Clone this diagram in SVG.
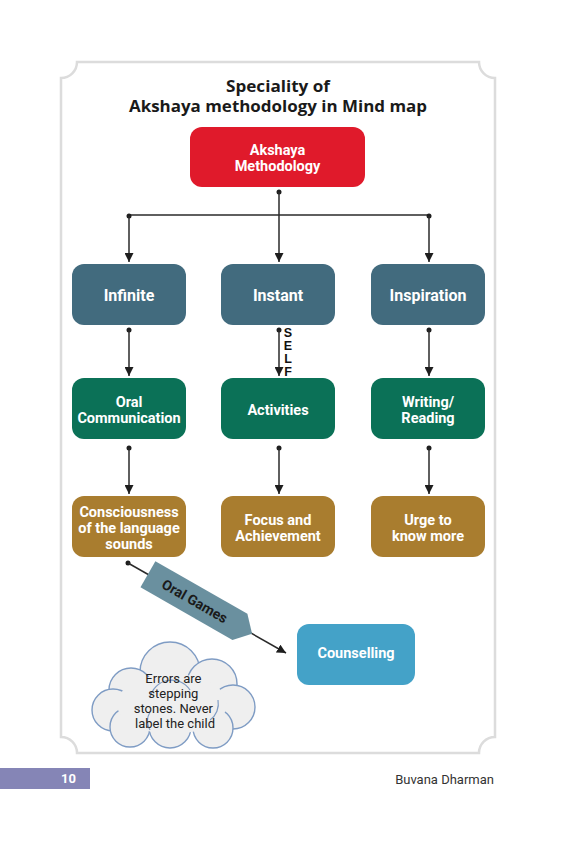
<svg xmlns="http://www.w3.org/2000/svg" width="561" height="842" viewBox="0 0 561 842">
<defs>
<marker id="arr" viewBox="0 0 10 10" refX="10" refY="5" markerWidth="9" markerHeight="9" markerUnits="userSpaceOnUse" orient="auto">
<path d="M0,0 L10,5 L0,10 Z" fill="#1e1e1e"/>
</marker>
<style>
.frame{fill:#fff;stroke:#dcdcdc;stroke-width:2.5}
.title{font-family:"Open Sans","Liberation Sans",sans-serif;font-weight:700;font-size:16px;fill:#1a1a1a;text-anchor:middle}
.lbl{font-family:Roboto,"Liberation Sans",sans-serif;font-weight:700;font-size:14.5px;fill:#fff;text-anchor:middle}
.big{font-size:16px}
.con{stroke:#2a2a2a;stroke-width:1.5;fill:none}
.dot{fill:#1e1e1e}
.n1{fill:#426b7e}
.n2{fill:#0b7157}
.n3{fill:#a97d2f}
.cl{fill:#efefef;stroke:#7f9cc4;stroke-width:1.4}
.self{font-family:"Liberation Sans",Arial,sans-serif;font-weight:700;font-size:12.5px;fill:#111;text-anchor:middle}
</style>
</defs>
<rect width="561" height="842" fill="#fff"/>
<path class="frame" d="M77,62 H479 A16,16 0 0 0 495,78 V737 A16,16 0 0 0 479,753 H77 A16,16 0 0 0 61,737 V78 A16,16 0 0 0 77,62 Z"/>
<g id="title">
<text class="title" x="278" y="92" textLength="104" lengthAdjust="spacingAndGlyphs">Speciality of</text>
<text class="title" x="278" y="112" textLength="298" lengthAdjust="spacingAndGlyphs">Akshaya methodology in Mind map</text>
</g>
<g id="connectors">
<circle class="dot" cx="279" cy="192" r="2.5"/>
<line class="con" x1="279" y1="192" x2="279" y2="262" marker-end="url(#arr)"/>
<line class="con" x1="129" y1="215" x2="429" y2="215"/>
<circle class="dot" cx="129" cy="216" r="2.5"/>
<circle class="dot" cx="429" cy="216" r="2.5"/>
<line class="con" x1="129" y1="216" x2="129" y2="262" marker-end="url(#arr)"/>
<line class="con" x1="429" y1="216" x2="429" y2="262" marker-end="url(#arr)"/>
<circle class="dot" cx="129" cy="330" r="2.5"/>
<line class="con" x1="129" y1="330" x2="129" y2="376" marker-end="url(#arr)"/>
<circle class="dot" cx="279" cy="330" r="2.5"/>
<line class="con" x1="279" y1="330" x2="279" y2="376" marker-end="url(#arr)"/>
<circle class="dot" cx="429" cy="330" r="2.5"/>
<line class="con" x1="429" y1="330" x2="429" y2="376" marker-end="url(#arr)"/>
<circle class="dot" cx="129" cy="448" r="2.5"/>
<line class="con" x1="129" y1="448" x2="129" y2="494" marker-end="url(#arr)"/>
<circle class="dot" cx="279" cy="448" r="2.5"/>
<line class="con" x1="279" y1="448" x2="279" y2="494" marker-end="url(#arr)"/>
<circle class="dot" cx="429" cy="448" r="2.5"/>
<line class="con" x1="429" y1="448" x2="429" y2="494" marker-end="url(#arr)"/>
<circle class="dot" cx="128" cy="563" r="2.5"/>
<line class="con" x1="128" y1="563" x2="286" y2="653" marker-end="url(#arr)"/>
<g id="oral-games" transform="translate(200,604) rotate(29.8)">
<path d="M-60,-15 H46 L60,0 L46,15 H-60 Z" fill="#6a909f"/>
<text x="-6" y="5" font-family="Roboto,'Liberation Sans',sans-serif" font-weight="700" font-size="14" fill="#1a1a1a" text-anchor="middle">Oral Games</text>
</g>
<g id="self-label">
<text class="self" x="288" y="337">S</text>
<text class="self" x="288" y="350">E</text>
<text class="self" x="288" y="363">L</text>
<text class="self" x="288" y="376">F</text>
</g>
</g>
<g id="akshaya">
<rect x="190" y="127" width="175" height="60" rx="12" fill="#e01a2b"/>
<text class="lbl" x="277.5" y="155">Akshaya</text>
<text class="lbl" x="277.5" y="171">Methodology</text>
</g>
<g id="infinite">
<rect class="n1" x="72" y="264" width="114" height="61" rx="12"/>
<text class="lbl big" x="129" y="301">Infinite</text>
</g>
<g id="instant">
<rect class="n1" x="221" y="264" width="114" height="61" rx="12"/>
<text class="lbl big" x="278" y="301">Instant</text>
</g>
<g id="inspiration">
<rect class="n1" x="371" y="264" width="114" height="61" rx="12"/>
<text class="lbl big" x="428" y="301">Inspiration</text>
</g>
<g id="oral-communication">
<rect class="n2" x="72" y="378" width="114" height="61" rx="12"/>
<text class="lbl" x="129" y="407">Oral</text>
<text class="lbl" x="129" y="423">Communication</text>
</g>
<g id="activities">
<rect class="n2" x="221" y="378" width="114" height="61" rx="12"/>
<text class="lbl" x="278" y="415">Activities</text>
</g>
<g id="writing-reading">
<rect class="n2" x="371" y="378" width="114" height="61" rx="12"/>
<text class="lbl" x="428" y="407">Writing/</text>
<text class="lbl" x="428" y="423">Reading</text>
</g>
<g id="consciousness">
<rect class="n3" x="72" y="496" width="114" height="61" rx="12"/>
<text class="lbl" x="129" y="517">Consciousness</text>
<text class="lbl" x="129" y="533">of the language</text>
<text class="lbl" x="129" y="549">sounds</text>
</g>
<g id="focus">
<rect class="n3" x="221" y="496" width="114" height="61" rx="12"/>
<text class="lbl" x="278" y="525">Focus and</text>
<text class="lbl" x="278" y="541">Achievement</text>
</g>
<g id="urge">
<rect class="n3" x="371" y="496" width="114" height="61" rx="12"/>
<text class="lbl" x="428" y="525">Urge to</text>
<text class="lbl" x="428" y="541">know more</text>
</g>
<g id="counselling">
<rect x="297" y="624" width="118" height="61" rx="12" fill="#44a2c8"/>
<text class="lbl" x="356" y="658">Counselling</text>
</g>
<g id="cloud">
<circle class="cl" cx="170" cy="672" r="30"/>
<circle class="cl" cx="131" cy="690" r="22"/>
<circle class="cl" cx="212" cy="684" r="25"/>
<circle class="cl" cx="233" cy="707" r="22"/>
<circle class="cl" cx="113" cy="710" r="21"/>
<circle class="cl" cx="130" cy="727" r="20"/>
<circle class="cl" cx="213" cy="728" r="20"/>
<circle class="cl" cx="170" cy="727" r="21"/>
<ellipse cx="172" cy="704" rx="55" ry="30" fill="#efefef"/>
<path d="M150,698 A22,22 0 0 1 190,690" fill="none" stroke="#7f9cc4" stroke-width="1.2"/>
<path d="M210,720 A20,20 0 0 0 218,700" fill="none" stroke="#7f9cc4" stroke-width="1.2"/>
<path d="M150,730 A18,18 0 0 1 150,712" fill="none" stroke="#7f9cc4" stroke-width="1.2"/>
<text font-family="Roboto,'Liberation Sans',sans-serif" font-size="13" fill="#222" text-anchor="middle">
<tspan x="175" y="683">Errors are</tspan>
<tspan x="175" y="698">stepping</tspan>
<tspan x="175" y="713">stones. Never</tspan>
<tspan x="175" y="728">label the child</tspan>
</text>
</g>
<g id="footer">
<rect x="0" y="768" width="90" height="21" fill="#8585b6"/>
<text x="76" y="783" font-family="Roboto,'Liberation Sans',sans-serif" font-weight="700" font-size="13" fill="#fff" text-anchor="end">10</text>
<text x="494" y="784" font-family="Roboto,'Liberation Sans',sans-serif" font-size="13" fill="#333" text-anchor="end">Buvana Dharman</text>
</g>
</svg>
